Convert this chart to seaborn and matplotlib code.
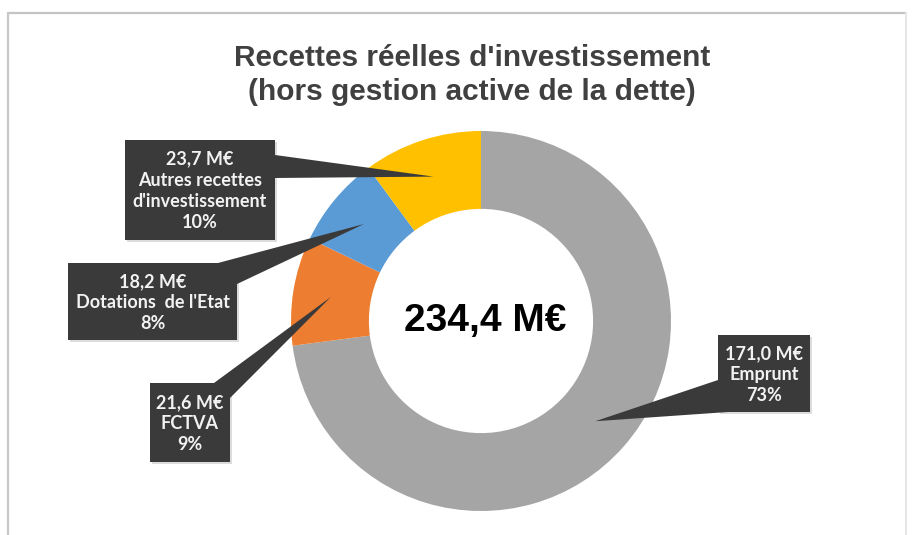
"""
Donut chart: recettes réelles d'investissement (hors gestion active de la dette).
"""

import numpy as np
import matplotlib.pyplot as plt
import seaborn as sns
from matplotlib.patches import Polygon

# ---------------------------------------------------------------------------
# Data
# ---------------------------------------------------------------------------

labels = ["Emprunt", "FCTVA", "Dotations  de l'Etat", "Autres recettes\nd'investissement"]
amounts = [171.0, 21.6, 18.2, 23.7]          # M€
shares = [73, 9, 8, 10]                       # %
total = 234.4                                 # M€
colors = ["#A5A5A5", "#ED7D31", "#5B9BD5", "#FFC000"]

title = "Recettes réelles d'investissement\n(hors gestion active de la dette)"

# ---------------------------------------------------------------------------
# Styling
# ---------------------------------------------------------------------------

sns.set_style("white")
plt.rcParams["font.family"] = ["Liberation Sans", "DejaVu Sans"]

W, H = 918, 535
fig = plt.figure(figsize=(W / 100, H / 100), dpi=100)
fig.patch.set_facecolor("white")

# overlay in pixel coordinates (y going down) for frame, title and callouts
over = fig.add_axes([0, 0, 1, 1])
over.set_xlim(0, W)
over.set_ylim(H, 0)
over.axis("off")

# light frame like the original screenshot
over.plot([8, 906], [13, 13], color="#C4C4C4", lw=1.6, zorder=1)
over.plot([8, 8], [13, 535], color="#C8C8C8", lw=1.6, zorder=1)
over.plot([906, 906], [13, 535], color="#E6E6E6", lw=1.4, zorder=1)

over.text(472, 75, title, ha="center", va="center", fontsize=21.5,
          fontweight="bold", color="#404040", linespacing=1.3)

# ---------------------------------------------------------------------------
# Donut
# ---------------------------------------------------------------------------

cx, cy, R = 481, 321, 190   # pixels
pie_ax = fig.add_axes([(cx - R) / W, (H - cy - R) / H, 2 * R / W, 2 * R / H])
wedges, _ = pie_ax.pie(amounts, colors=colors, startangle=90, counterclock=False,
                       wedgeprops=dict(width=0.41, edgecolor="none"))
pie_ax.set_xlim(-1, 1)
pie_ax.set_ylim(-1, 1)
pie_ax.set_aspect("equal")
pie_ax.set_zorder(2)
over.set_zorder(3)
over.patch.set_alpha(0)

pie_ax.text(0.02, 0, f"{total:.1f} M€".replace(".", ","), ha="center", va="center",
            fontsize=28, fontweight="bold", color="black")

# ---------------------------------------------------------------------------
# Callouts (box + pointer towards the middle of each wedge)
# ---------------------------------------------------------------------------

# box rectangles (x0, y0, x1, y1) and the two base points of the pointer
boxes = [
    ((718, 335, 810, 412), [(718, 380), (728, 412)]),
    ((150, 383, 230, 462), [(214, 383), (230, 398)]),
    ((68, 263, 237, 340), [(218, 263), (237, 284)]),
    ((125, 140, 275, 240), [(275, 155), (275, 178)]),
]

inv = over.transData.inverted()
for w, lab, amt, pct, (box, base) in zip(wedges, labels, amounts, shares, boxes):
    mid = np.deg2rad((w.theta1 + w.theta2) / 2)
    tip = inv.transform(pie_ax.transData.transform((0.8 * np.cos(mid), 0.8 * np.sin(mid))))
    x0, y0, x1, y1 = box
    # shadow
    over.add_patch(plt.Rectangle((x0 + 2, y0 + 2), x1 - x0, y1 - y0,
                                 color="#BBBBBB", alpha=0.5, zorder=4, lw=0))
    over.add_patch(Polygon([base[0], tuple(tip), base[1]], closed=True,
                           color="#3A3A3A", zorder=5, lw=0))
    over.add_patch(plt.Rectangle((x0, y0), x1 - x0, y1 - y0,
                                 color="#3A3A3A", zorder=5, lw=0))
    txt = f"{amt:.1f} M€".replace(".", ",") + f"\n{lab}\n{pct}%"
    over.text((x0 + x1) / 2, (y0 + y1) / 2 + 1, txt, ha="center", va="center",
              fontsize=13, fontweight="bold", color="#F2F2F2",
              family=["Lato", "DejaVu Sans"], linespacing=1.3, zorder=6)

fig.savefig("out.png", dpi=100, facecolor="white")
